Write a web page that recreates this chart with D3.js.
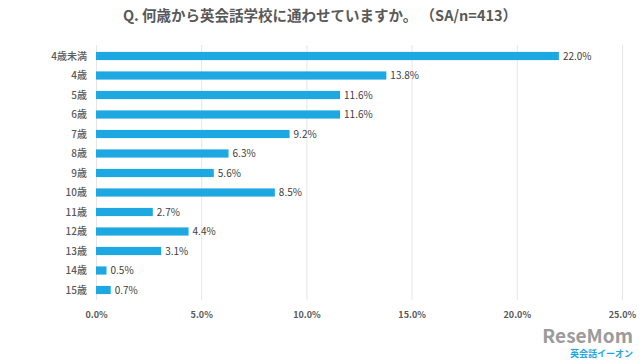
<!DOCTYPE html>
<html><head><meta charset="utf-8">
<script src="https://cdn.jsdelivr.net/npm/d3@7"></script>
<style>body{margin:0;background:#fff}svg{display:block}text{font-family:"Noto Sans CJK JP","Noto Sans",sans-serif}</style>
</head><body>
<svg id="c" width="640" height="360"></svg>
<script>
const categories = ["4歳未満","4歳","5歳","6歳","7歳","8歳","9歳","10歳","11歳","12歳","13歳","14歳","15歳"];
const values = [22.0,13.8,11.6,11.6,9.2,6.3,5.6,8.5,2.7,4.4,3.1,0.5,0.7];
const ticks = [0,5,10,15,20,25];
const title = "Q. 何歳から英会話学校に通わせていますか。 （SA/n=413）";

const svg = d3.select("#c");
const x = d3.scaleLinear().domain([0,25]).range([96,622]);
const y = d3.scaleBand().domain(categories).range([46.25,299.75]).paddingInner(0.58).paddingOuter(0.29);

svg.append("text").attr("x",320).attr("y",21).attr("text-anchor","middle")
  .attr("font-size",14.5).attr("font-weight","bold").attr("fill","#595959").text(title);

const xa = svg.append("g").attr("transform","translate(0,300)")
  .call(d3.axisBottom(x).tickValues(ticks).tickFormat(d=>d.toFixed(1)+"%").tickSize(-255).tickPadding(12));
xa.select(".domain").remove();
xa.selectAll(".tick line").attr("stroke","#e6e6e6");
xa.selectAll(".tick text").attr("font-size",9).attr("fill","#595959").attr("font-weight","bold");

svg.append("g").selectAll("rect").data(values).join("rect")
  .attr("x",x(0)).attr("y",(d,i)=>y(categories[i])).attr("width",d=>x(d)-x(0))
  .attr("height",y.bandwidth()).attr("fill","#1da8e2");

svg.append("g").selectAll("text").data(values).join("text")
  .attr("x",d=>x(d)+4).attr("y",(d,i)=>y(categories[i])+y.bandwidth()/2).attr("dy","0.35em")
  .attr("font-size",10).attr("fill","#404040").text(d=>d.toFixed(1)+"%");

svg.append("g").selectAll("text").data(categories).join("text")
  .attr("x",87).attr("y",d=>y(d)+y.bandwidth()/2).attr("dy","0.35em").attr("text-anchor","end")
  .attr("font-size",10).attr("font-weight",500).attr("fill","#595959").text(d=>d);

svg.append("text").attr("x",633).attr("y",343).attr("text-anchor","end").attr("font-size",19)
  .attr("font-weight","bold").attr("fill","#8a8a8a").attr("opacity",0.85).text("ReseMom");
svg.append("text").attr("x",633).attr("y",357).attr("text-anchor","end").attr("font-size",9)
  .attr("font-weight","bold").attr("fill","#1da8e2").text("英会話イーオン");
</script>
</body></html>
